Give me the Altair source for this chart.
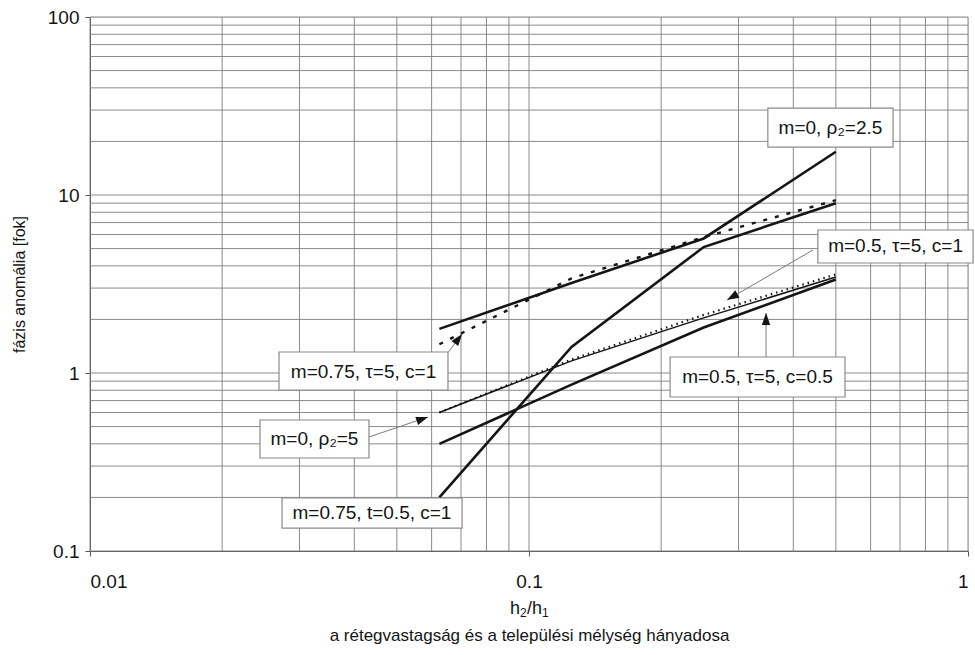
import altair as alt
import pandas as pd

# h2/h1 sampling points shared by every curve
ratio = [0.0625, 0.125, 0.25, 0.5]

# phase anomaly [degrees] of each model
m0_rho25 = [1.77, 3.2, 5.7, 17.5]          # m=0, rho2=2.5
m075_t05_c1 = [0.20, 1.40, 5.1, 9.0]       # m=0.75, t=0.5, c=1
m075_tau5_c1 = [1.45, 3.4, 5.8, 9.35]      # m=0.75, tau=5, c=1 (dashed)
m0_rho5 = [0.60, 1.17, 2.04, 3.46]         # m=0, rho2=5 (thin)
m05_tau5_c1 = [0.60, 1.19, 2.12, 3.58]     # m=0.5, tau=5, c=1 (dotted)
m05_tau5_c05 = [0.40, 0.86, 1.8, 3.35]     # m=0.5, tau=5, c=0.5

# log grid positions
x_grid = [0.01, 0.02, 0.03, 0.04, 0.05, 0.06, 0.07, 0.08, 0.09,
          0.1, 0.2, 0.3, 0.4, 0.5, 0.6, 0.7, 0.8, 0.9, 1]
y_grid = [0.1, 0.2, 0.3, 0.4, 0.5, 0.6, 0.7, 0.8, 0.9,
          1, 2, 3, 4, 5, 6, 7, 8, 9,
          10, 20, 30, 40, 50, 60, 70, 80, 90, 100]
x_ticks = [0.01, 0.1, 1]
y_ticks = [0.1, 1, 10, 100]

# curve labels: text, box corners and text anchor in data units
label_text = ["m=0, ρ₂=2.5", "m=0.5, τ=5, c=1", "m=0.5, τ=5, c=0.5",
              "m=0.75, τ=5, c=1", "m=0, ρ₂=5", "m=0.75, t=0.5, c=1"]
label_x1 = [0.350, 0.455, 0.2096, 0.02695, 0.02439, 0.02738]
label_x2 = [0.675, 1.027, 0.5246, 0.06538, 0.04320, 0.07039]
label_y1 = [18.6, 4.15, 0.733, 0.8025, 0.3331, 0.1346]
label_y2 = [30.8, 6.36, 1.23, 1.312, 0.5445, 0.1985]
label_tx = [0.486, 0.684, 0.3315, 0.04198, 0.03246, 0.04388]
label_ty = [23.9, 5.14, 0.9495, 1.013, 0.4258, 0.1635]

# leader arrows: tail, tip, heading (degrees clockwise from up)
arrow_x1 = [0.0650, 0.0432, 0.4435, 0.3467]
arrow_y1 = [1.278, 0.437, 4.91, 1.23]
arrow_x2 = [0.0704, 0.0589, 0.2825, 0.3467]
arrow_y2 = [1.656, 0.566, 2.571, 2.174]
arrow_dir = [37, 71, 240, 0]

series = {
    "m=0, ρ2=2.5": (m0_rho25, "thick"),
    "m=0.75, t=0.5, c=1": (m075_t05_c1, "thick"),
    "m=0.5, τ=5, c=0.5": (m05_tau5_c05, "thick"),
    "m=0, ρ2=5": (m0_rho5, "thin"),
    "m=0.75, τ=5, c=1": (m075_tau5_c1, "dashed"),
    "m=0.5, τ=5, c=1": (m05_tau5_c1, "dotted"),
}
rows = []
for name, (vals, style) in series.items():
    for i, (xv, yv) in enumerate(zip(ratio, vals)):
        rows.append({"model": name, "style": style, "x": xv, "y": yv, "order": i})
curves = pd.DataFrame(rows)

labels = pd.DataFrame({"text": label_text, "x": label_x1, "x2": label_x2,
                       "y": label_y1, "y2": label_y2,
                       "tx": label_tx, "ty": label_ty})
arrows = pd.DataFrame({"x": arrow_x1, "y": arrow_y1, "x2": arrow_x2,
                       "y2": arrow_y2, "dir": arrow_dir})
xg = pd.DataFrame({"x": x_grid})
yg = pd.DataFrame({"y": y_grid})

FONT = "Liberation Sans"
INK = "#151515"
xs = alt.Scale(type="log", domain=[0.01, 1], nice=False)
ys = alt.Scale(type="log", domain=[0.1, 100], nice=False)

x_axis = alt.Axis(values=x_ticks, format="~g", grid=False, tickSize=5,
                  labelFontSize=19, labelPadding=16, labelColor=INK,
                  domainColor="#555", tickColor="#555",
                  title="a rétegvastagság és a települési mélység hányadosa",
                  titleFontSize=17, titleFontWeight="normal", titleColor=INK,
                  titlePadding=36)
y_axis = alt.Axis(values=y_ticks, format="~g", grid=False, tickSize=5,
                  labelFontSize=19, labelPadding=6, labelColor=INK,
                  domainColor="#555", tickColor="#555",
                  title="fázis anomália [fok]", titleFontSize=16,
                  titleFontWeight="normal", titleColor=INK, titlePadding=20)

X = lambda f="x": alt.X(f"{f}:Q", scale=xs, axis=x_axis)
Y = lambda f="y": alt.Y(f"{f}:Q", scale=ys, axis=y_axis)

grid_v = alt.Chart(xg).mark_rule(color="#7d7d7d", strokeWidth=0.9).encode(x=X())
grid_h = alt.Chart(yg).mark_rule(color="#7d7d7d", strokeWidth=0.9).encode(y=Y())

def curve_layer(style, **mark):
    return alt.Chart(curves).transform_filter(
        alt.datum.style == style
    ).mark_line(color=INK, strokeCap="butt", **mark).encode(
        x=X(), y=Y(), detail="model:N", order="order:Q")

thick = curve_layer("thick", strokeWidth=2.6)
thin = curve_layer("thin", strokeWidth=1.5)
dashed = curve_layer("dashed", strokeWidth=2.4, strokeDash=[4, 8])
dotted = curve_layer("dotted", strokeWidth=2.2, strokeDash=[1.5, 4])

leaders = alt.Chart(arrows).mark_rule(color="#7a7a7a", strokeWidth=1).encode(
    x=X(), x2="x2:Q", y=Y(), y2="y2:Q")
heads = alt.Chart(arrows).mark_point(
    shape="M0,0L0.7,2L-0.7,2Z", filled=True, size=144, color=INK, opacity=1
).encode(x=X("x2"), y=Y("y2"), angle=alt.Angle("dir:Q", scale=None))

boxes = alt.Chart(labels).mark_rect(fill="white", stroke="#8a8a8a",
                                    strokeWidth=1.2).encode(
    x=X(), x2="x2:Q", y=Y(), y2="y2:Q")
texts = alt.Chart(labels).mark_text(font=FONT, fontSize=19, color=INK,
                                    align="center", baseline="middle").encode(
    x=X("tx"), y=Y("ty"), text="text:N")

# axis variable name h2/h1 set with real subscripts below the x labels
anchor = alt.Chart(pd.DataFrame({"k": [0]}))
def title_piece(txt, px, py, size):
    return anchor.mark_text(text=txt, font=FONT, fontSize=size, color=INK,
                            align="left", baseline="alphabetic").encode(
        x=alt.value(px), y=alt.value(py))

symbol = alt.layer(
    title_piece("h", 420, 597, 18),
    title_piece("2", 430, 600, 12),
    title_piece("/h", 437, 597, 18),
    title_piece("1", 452, 600, 12),
)

chart = alt.layer(grid_v, grid_h, thick, thin, dashed, dotted,
                  leaders, heads, boxes, texts, symbol).properties(
    width=878, height=534,
    autosize=alt.AutoSizeParams(type="none"),
    padding={"left": 90, "top": 17, "right": 7, "bottom": 104},
    background="white",
).configure_view(stroke=None).configure(font=FONT)

chart.save("out.html", embed_options={"renderer": "svg", "actions": False})
